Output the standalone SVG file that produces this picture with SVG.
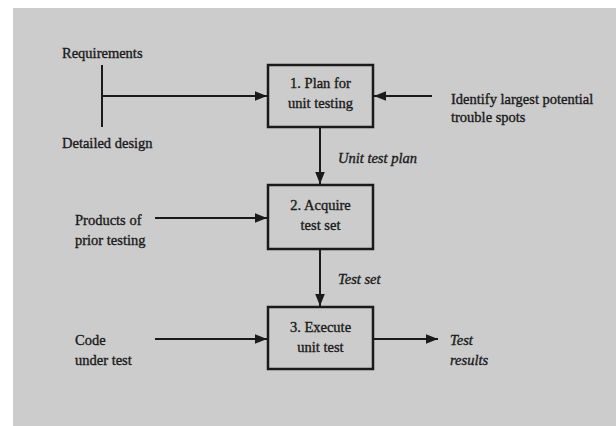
<svg xmlns="http://www.w3.org/2000/svg" width="616" height="426" viewBox="0 0 616 426">
<defs>
<style>
text{font-family:"Liberation Serif","Times New Roman",serif;font-size:14.5px;fill:#1a1a1a;stroke:#1a1a1a;stroke-width:0.35}
.c{text-anchor:middle}
.i{font-style:italic}
.box{fill:none;stroke:#1a1a1a;stroke-width:2.5}
.ln{fill:none;stroke:#1a1a1a;stroke-width:2}
</style>
<marker id="ah" viewBox="0 0 10 10" refX="10" refY="5" markerWidth="6" markerHeight="6" orient="auto" markerUnits="strokeWidth">
<path d="M0,1 L10,5 L0,9 z" fill="#1a1a1a"/>
</marker>
</defs>
<rect x="0" y="0" width="616" height="426" fill="#ffffff"/>
<rect x="13" y="8" width="603" height="418" fill="#cccccc"/>
<g id="connectors">
<line class="ln" x1="102" y1="65" x2="102" y2="127"/>
<line class="ln" x1="102" y1="96" x2="267" y2="96" marker-end="url(#ah)"/>
<line class="ln" x1="432" y1="96" x2="374" y2="96" marker-end="url(#ah)"/>
<line class="ln" x1="320" y1="128" x2="320" y2="184" marker-end="url(#ah)"/>
<line class="ln" x1="155" y1="218" x2="267" y2="218" marker-end="url(#ah)"/>
<line class="ln" x1="320" y1="250" x2="320" y2="306" marker-end="url(#ah)"/>
<line class="ln" x1="155" y1="339" x2="267" y2="339" marker-end="url(#ah)"/>
<line class="ln" x1="374" y1="339" x2="438" y2="339" marker-end="url(#ah)"/>
</g>
<g id="labels">
<text x="62" y="58">Requirements</text>
<text x="62" y="148">Detailed design</text>
<text x="451" y="104">Identify largest potential</text>
<text x="451" y="122">trouble spots</text>
<text class="i" x="338" y="163">Unit test plan</text>
<text x="75" y="225">Products of</text>
<text x="75" y="245">prior testing</text>
<text class="i" x="338" y="284">Test set</text>
<text x="75" y="345">Code</text>
<text x="75" y="365">under test</text>
<text class="i" x="450" y="345">Test</text>
<text class="i" x="450" y="365">results</text>
</g>
<g id="node1">
<rect class="box" x="268" y="65" width="105" height="62"/>
<text class="c" x="320.5" y="88">1. Plan for</text>
<text class="c" x="320.5" y="108">unit testing</text>
</g>
<g id="node2">
<rect class="box" x="268" y="185" width="105" height="64"/>
<text class="c" x="320.5" y="210">2. Acquire</text>
<text class="c" x="320.5" y="230">test set</text>
</g>
<g id="node3">
<rect class="box" x="268" y="307" width="105" height="62"/>
<text class="c" x="320.5" y="332">3. Execute</text>
<text class="c" x="320.5" y="352">unit test</text>
</g>
</svg>
